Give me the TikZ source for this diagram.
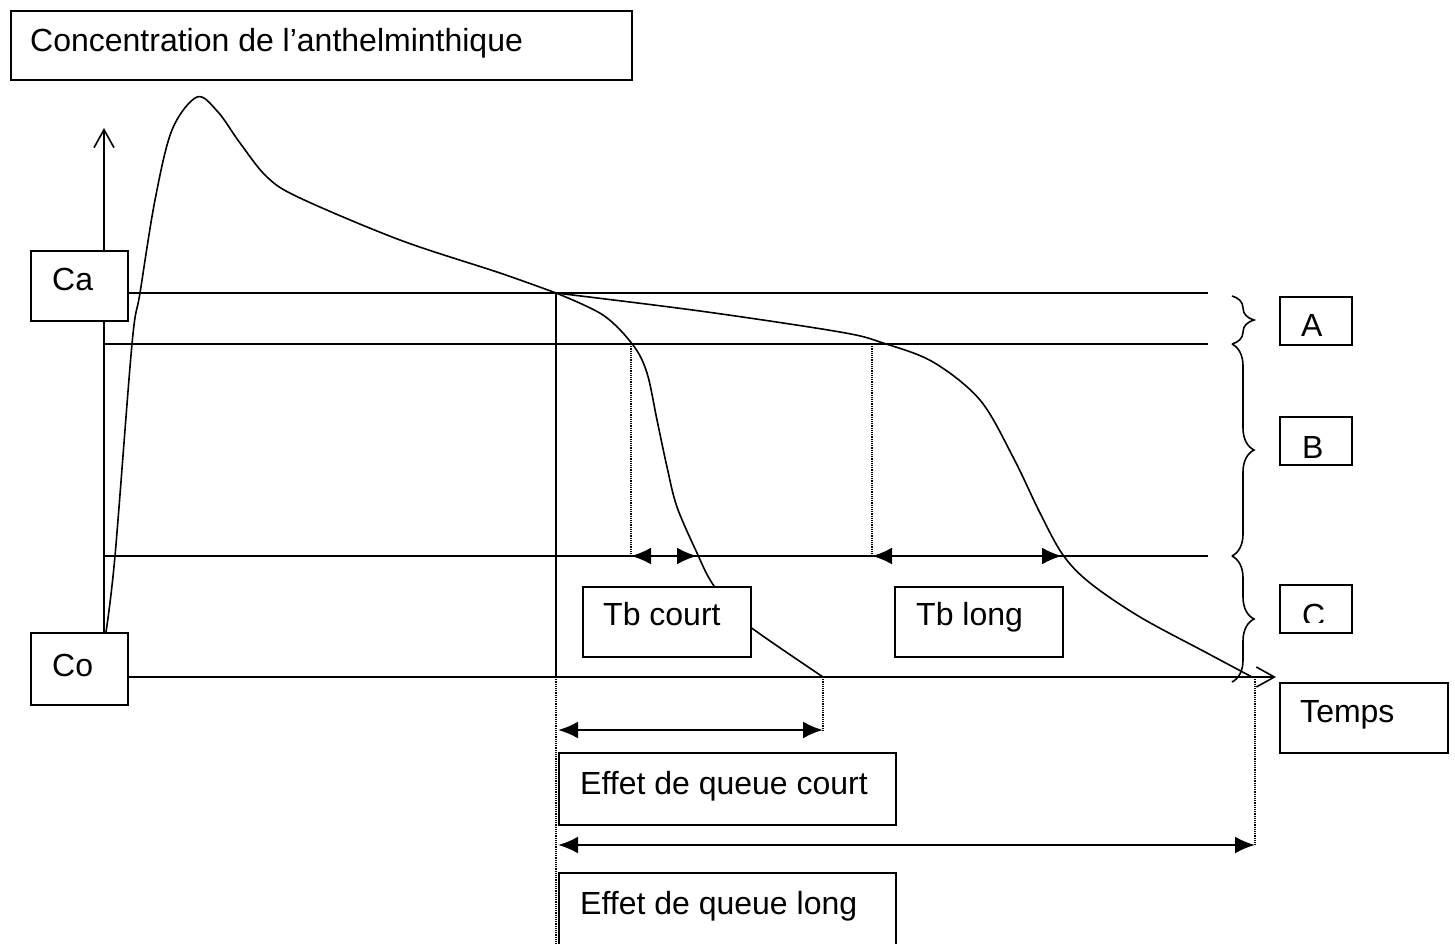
\documentclass[tikz,border=0pt]{standalone}
\usepackage{fontspec}
\setmainfont{Liberation Sans}
\usetikzlibrary{arrows.meta,decorations.pathreplacing,calc}
\begin{document}
\begin{tikzpicture}[x=1pt,y=-1pt,
  every node/.style={font=\fontsize{32}{38}\selectfont},
  ln/.style={line width=1.6pt},
  boxst/.style={draw, line width=1.6pt, fill=white, inner sep=0pt, anchor=north west},
  txt/.style={anchor=base west, inner sep=0pt},
  dots/.style={line width=1.2pt, densely dotted},
  dbl/.style={line width=2.4pt, {Latex[length=20pt,width=17pt]}-{Latex[length=20pt,width=17pt]}},
  axisst/.style={line width=1.6pt, -{Straight Barb[length=18pt,width=20pt]}},
  brc/.style={line width=1.6pt, decorate, decoration={brace, amplitude=22pt}},
  crv/.style={line width=1.6pt, smooth, tension=0.55},
]
\useasboundingbox (0,0) rectangle (1455,943);

% coordinates
\coordinate (yb) at (104,632);
\coordinate (yt) at (104,128);
\coordinate (xo) at (127,677);
\coordinate (xt) at (1276,677);
\coordinate (ca0) at (127,293);
\coordinate (ca1) at (1208,293);
\coordinate (b0) at (104,344);
\coordinate (b1) at (1208,344);
\coordinate (c0) at (104,556);
\coordinate (c1) at (1208,556);
\coordinate (v0) at (556,293);
\coordinate (v1) at (556,677);
\coordinate (v2) at (556,950);
\coordinate (d1a) at (631,344);
\coordinate (d1b) at (631,556);
\coordinate (d2a) at (872,344);
\coordinate (d2b) at (872,556);
\coordinate (d3a) at (823,677);
\coordinate (d3b) at (823,730);
\coordinate (d4a) at (1255,677);
\coordinate (d4b) at (1255,845);
\coordinate (tc1) at (697,556);
\coordinate (tl1) at (1062,556);
\coordinate (ec0) at (558,730);
\coordinate (el0) at (558,845);

% axes and levels
\draw[axisst] (yb) -- (yt);
\draw[axisst] (xo) -- (xt);
\draw[ln] (ca0) -- (ca1);
\draw[ln] (b0) -- (b1);
\draw[ln] (c0) -- (c1);
\draw[ln] (v0) -- (v1);

% dotted guides
\draw[dots] (v1) -- (v2);
\draw[dots] (d1a) -- (d1b);
\draw[dots] (d2a) -- (d2b);
\draw[dots] (d3a) -- (d3b);
\draw[dots] (d4a) -- (d4b);

% curves
\draw[crv] plot coordinates {(106,632) (115,556) (132,344) (140,293) (155,200) (172,130) (197,97) (218,112) (240,143) (267,177) (300,198) (400,240) (500,273) (556,293)};
\draw[crv] plot coordinates {(556,293) (603,315) (633,345) (647,373) (657,420) (667,467) (677,507) (697,553) (712,583) (738,616) (760,634) (823,677)};
\draw[crv] plot coordinates {(556,293) (700,311) (840,332) (883,343) (933,362) (980,400) (1013,457) (1040,513) (1063,555) (1090,583) (1140,617) (1207,653) (1252,677)};

% double arrows
\draw[dbl] (d1b) -- (tc1);
\draw[dbl] (d2b) -- (tl1);
\draw[dbl] (ec0) -- (d3b);
\draw[dbl] (el0) -- (d4b);

% braces
\draw[brc] (1232,296) -- (1232,344);
\draw[brc] (1232,344) -- (1232,556);
\draw[brc] (1232,556) -- (1232,682);

% boxes
\node[boxst, minimum width=621pt, minimum height=69pt] (title) at (10,10) {};
\node[txt] (ttitle) at ($(title.north west)+(20,41)$) {Concentration de l’anthelminthique};

\node[boxst, minimum width=97pt, minimum height=70pt] (ca) at (30,250) {};
\node[txt] (tca) at ($(ca.north west)+(22,40)$) {Ca};

\node[boxst, minimum width=97pt, minimum height=72pt] (co) at (30,632) {};
\node[txt] (tco) at ($(co.north west)+(22,44)$) {Co};

\node[boxst, minimum width=72pt, minimum height=48pt] (bA) at (1279,296) {};
\node[txt] (tA) at ($(bA.north west)+(22,40)$) {A};

\node[boxst, minimum width=72pt, minimum height=48pt] (bB) at (1279,416) {};
\begin{scope}
\clip (1279,416) rectangle (1351,457);
\node[txt] (tB) at ($(bB.north west)+(23,42)$) {B};
\end{scope}

\node[boxst, minimum width=72pt, minimum height=48pt] (bC) at (1279,584) {};
\begin{scope}
\clip (1279,584) rectangle (1351,622);
\node[txt] (tC) at ($(bC.north west)+(23,42)$) {C};
\end{scope}

\node[boxst, minimum width=168pt, minimum height=70pt] (tbc) at (582,586) {};
\node[txt] (ttbc) at ($(tbc.north west)+(21,39)$) {Tb court};

\node[boxst, minimum width=168pt, minimum height=70pt] (tbl) at (894,586) {};
\node[txt] (ttbl) at ($(tbl.north west)+(22,39)$) {Tb long};

\node[boxst, minimum width=168pt, minimum height=70pt] (temps) at (1279,682) {};
\node[txt] (ttemps) at ($(temps.north west)+(21,40)$) {Temps};

\node[boxst, minimum width=337pt, minimum height=72pt] (eqc) at (558,752) {};
\node[txt] (teqc) at ($(eqc.north west)+(22,42)$) {Effet de queue court};

\node[boxst, minimum width=337pt, minimum height=90pt] (eql) at (558,872) {};
\node[txt] (teql) at ($(eql.north west)+(22,42)$) {Effet de queue long};

\end{tikzpicture}
\end{document}
